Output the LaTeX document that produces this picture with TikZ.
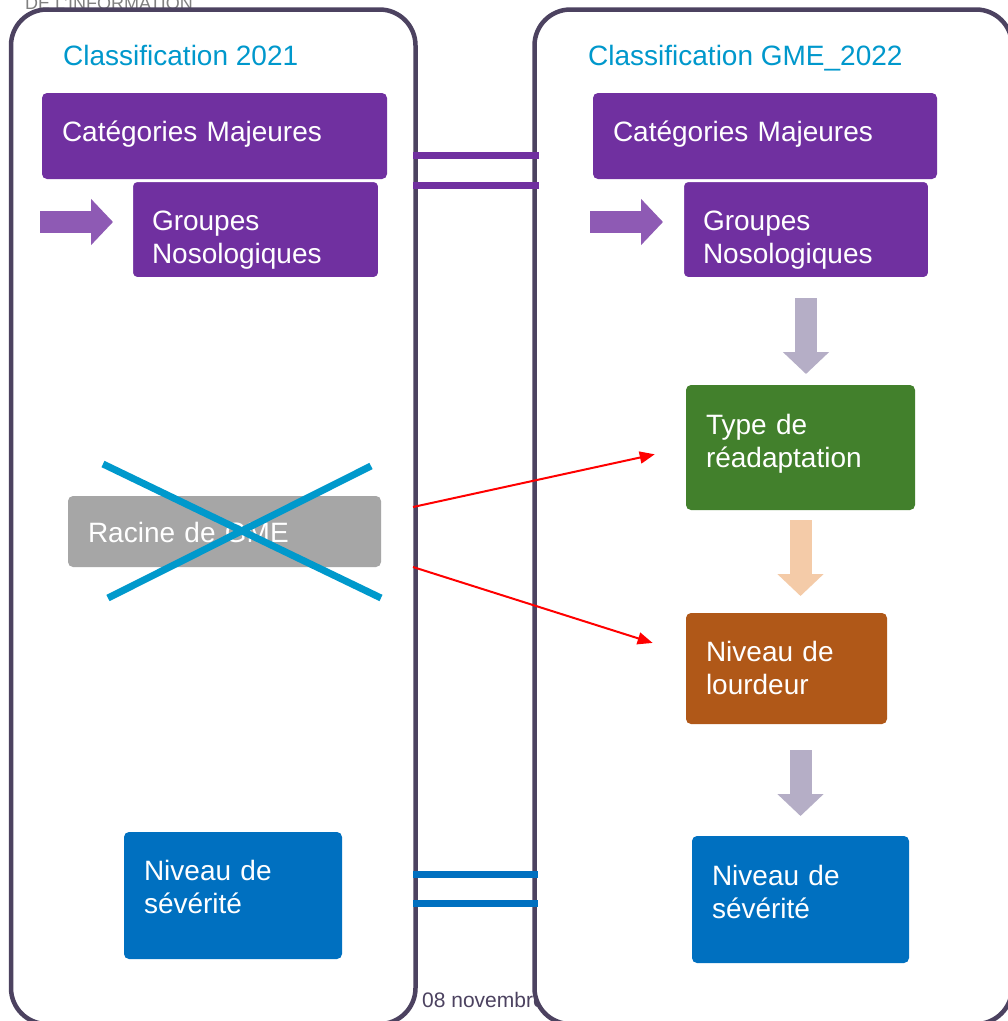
\documentclass[tikz,border=0pt]{standalone}
\usepackage{fontspec}
\setmainfont{Liberation Sans}
\usetikzlibrary{arrows.meta,calc}

\definecolor{panelc}{RGB}{76,66,96}
\definecolor{titlec}{RGB}{0,152,204}
\definecolor{purp}{RGB}{112,48,160}
\definecolor{purplt}{RGB}{142,90,180}
\definecolor{grayc}{RGB}{166,166,166}
\definecolor{crossc}{RGB}{0,153,204}
\definecolor{greenc}{RGB}{66,128,44}
\definecolor{brownc}{RGB}{176,88,24}
\definecolor{bluec}{RGB}{0,112,192}
\definecolor{lav}{RGB}{181,174,198}
\definecolor{peach}{RGB}{244,203,168}

\tikzset{
  panel/.style={draw=panelc, line width=4.5pt, fill=white, rounded corners=36pt,
    anchor=north west, inner sep=0pt, outer sep=0pt},
  title/.style={text=titlec, font=\fontsize{28}{33.6}\selectfont, anchor=base west, inner sep=0pt},
  blk/.style={rounded corners=5pt, text=white, font=\fontsize{28}{33.6}\selectfont,
    anchor=north west, align=left, inner xsep=20pt, inner ysep=0pt, outer sep=0pt},
  fat/.style={line width=22pt, -{Triangle[width=45pt,length=22pt]}},
  bar/.style={line width=7pt},
  redarr/.style={red, line width=2pt, -{Triangle[length=15pt,width=12pt]}},
  cross/.style={crossc, line width=7pt}
}

\begin{document}
\begin{tikzpicture}[x=1pt,y=-1pt]
\path[use as bounding box, fill=white] (0,0) rectangle (1008,1021);
\clip (0,0) rectangle (1008,1021);

% header and panels
\node[text=gray, font=\fontsize{18}{20}\selectfont, anchor=base west, inner sep=0pt] (hdr) at (25,9) {DE L'INFORMATION};
\node[panel, minimum width=404.5pt, minimum height=1014.5pt] (panelL) at (11,9.5) {};
\node[text=panelc, font=\fontsize{21}{24}\selectfont, anchor=base west, inner sep=0pt] (date) at (422,1007) {08 novembre};
\node[panel, minimum width=477.5pt, minimum height=1014.5pt] (panelR) at (534.5,9.5) {};

\node[title] (tL) at (63,65) {Classification 2021};
\node[title] (tR) at (588,65) {Classification GME\_2022};

% left column
\node[blk, fill=purp, text width=305pt, text height=48pt, text depth=38pt] (catL) at (42,93) {Catégories Majeures};
\node[blk, fill=purp, draw=white, line width=2pt, text width=207pt, text height=49pt, text depth=48pt] (grpL) at (132,181) {Groupes\\Nosologiques};
\node[blk, fill=grayc, text width=273pt, text height=46pt, text depth=25pt] (racine) at (68,496) {Racine de GME};
\node[blk, fill=bluec, text width=178pt, text height=48pt, text depth=79pt] (sevL) at (124,832) {Niveau de\\sévérité};

% right column
\node[blk, fill=purp, text width=304pt, text height=48pt, text depth=38pt] (catR) at (593,93) {Catégories Majeures};
\node[blk, fill=purp, draw=white, line width=2pt, text width=206pt, text height=49pt, text depth=48pt] (grpR) at (683,181) {Groupes\\Nosologiques};
\node[blk, fill=greenc, text width=189pt, text height=49pt, text depth=76pt] (typeR) at (686,385) {Type de\\réadaptation};
\node[blk, fill=brownc, text width=161pt, text height=48pt, text depth=63pt] (lourdR) at (686,613) {Niveau de\\lourdeur};
\node[blk, fill=bluec, text width=177pt, text height=49pt, text depth=78pt] (sevR) at (692,836) {Niveau de\\sévérité};

% block arrows
\coordinate (inL) at (40,222);
\coordinate (inR) at (590,222);
\draw[fat, purplt, shorten >=19pt] (inL) -- (inL -| grpL.west);
\draw[fat, purplt, shorten >=20pt] (inR) -- (inR -| grpR.west);
\draw[fat, lav, shorten <=20pt, shorten >=11pt] (grpR.south) -- (grpR.south |- typeR.north);
\draw[fat, peach, shorten <=10pt, shorten >=17pt] (typeR.south) -- (typeR.south |- lourdR.north);
\draw[fat, lav, shorten <=26pt, shorten >=20pt] (lourdR.south -| sevR.north) -- (sevR.north);

% equal bars
\foreach \y in {155.5,185}
  \draw[bar, purp, shorten <=-2.5pt, shorten >=-4.5pt] (panelL.east |- 0,\y) -- (panelR.west |- 0,\y);
\foreach \y in {874,903}
  \draw[bar, bluec, shorten <=-2.5pt, shorten >=-3.5pt] (panelL.east |- 0,\y) -- (panelR.west |- 0,\y);

% removed level
\draw[cross] (103,464) -- (381,598);
\draw[cross] (371,466) -- (108,598);

\coordinate (rA) at (413,507);
\coordinate (rB) at (413,567);
\draw[redarr, shorten >=32pt] (rA) -- (typeR.west);
\draw[redarr, shorten >=35pt] (rB) -- ([yshift=15pt]lourdR.west);
\end{tikzpicture}
\end{document}
